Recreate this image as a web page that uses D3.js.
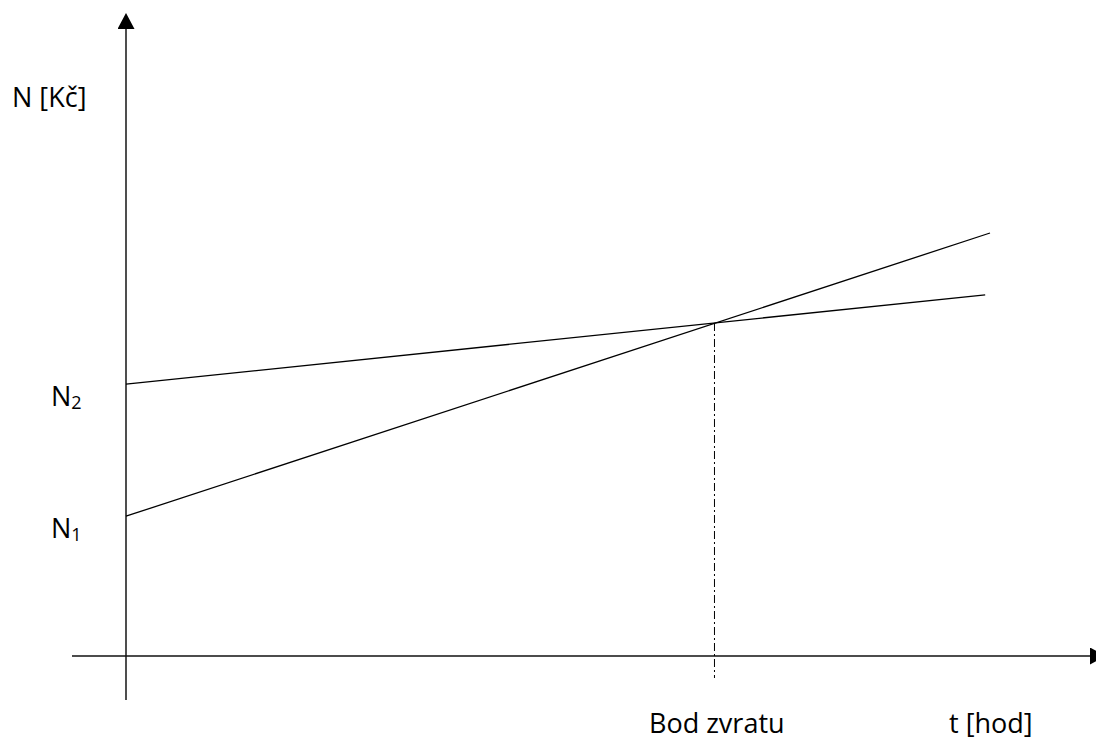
<!DOCTYPE html>
<html>
<head>
<meta charset="utf-8">
<script src="https://cdn.jsdelivr.net/npm/d3@7"></script>
<style>
  html, body { margin: 0; padding: 0; background: #fff; }
  svg { display: block; }
  text { font-family: "Open Sans", "Noto Sans", sans-serif; fill: #000; }
</style>
</head>
<body>
<svg id="chart" width="1096" height="743"></svg>
<script>
// Break-even diagram: two cost lines N1 and N2 over time t
const lineN1 = [[0, 2.33], [9.0, 7.05]];
const lineN2 = [[0, 4.53], [8.95, 6.02]];
const breakEven = { t: 6.13, n: 5.55 };
const yLabels = [
  { name: "N", sub: "2", n: 4.53 },
  { name: "N", sub: "1", n: 2.33 }
];
const axisTitles = { y: "N [Kč]", x: "t [hod]", breakEven: "Bod zvratu" };

const svg = d3.select("#chart");
const x = d3.scaleLinear().domain([0, 10]).range([126, 1086]);
const y = d3.scaleLinear().domain([0, 10]).range([656, 56]);

// arrowheads
const defs = svg.append("defs");
defs.append("marker")
  .attr("id", "arrow")
  .attr("viewBox", "0 0 16 17")
  .attr("refX", 0).attr("refY", 8.5)
  .attr("markerWidth", 16).attr("markerHeight", 17)
  .attr("markerUnits", "userSpaceOnUse")
  .attr("orient", "auto")
  .append("path")
  .attr("d", "M0,0 L16,8.5 L0,17 Z")
  .attr("fill", "#000");

// axes
svg.append("line")
  .attr("x1", x(0)).attr("x2", x(0))
  .attr("y1", 700).attr("y2", 29)
  .attr("stroke", "#222").attr("stroke-width", 1.6)
  .attr("marker-end", "url(#arrow)");
svg.append("line")
  .attr("x1", 72).attr("x2", 1090)
  .attr("y1", y(0)).attr("y2", y(0))
  .attr("stroke", "#111").attr("stroke-width", 1.6)
  .attr("marker-end", "url(#arrow)");

// cost lines
const line = d3.line().x(d => x(d[0])).y(d => y(d[1]));
[lineN1, lineN2].forEach(pts => {
  svg.append("path")
    .attr("d", line(pts))
    .attr("fill", "none")
    .attr("stroke", "#000")
    .attr("stroke-width", 1.3);
});

// break-even drop line
svg.append("line")
  .attr("x1", x(breakEven.t)).attr("x2", x(breakEven.t))
  .attr("y1", y(breakEven.n)).attr("y2", 678)
  .attr("stroke", "#000").attr("stroke-width", 1)
  .attr("stroke-dasharray", "8,3,2,3");

// labels
svg.append("text")
  .attr("x", 12).attr("y", 107)
  .attr("font-size", 27)
  .text(axisTitles.y);

yLabels.forEach(l => {
  const t = svg.append("text")
    .attr("x", 51).attr("y", y(l.n) + 22)
    .attr("font-size", 27);
  t.append("tspan").text(l.name);
  t.append("tspan").attr("font-size", 18).attr("dy", 3).text(l.sub);
});

svg.append("text")
  .attr("x", 649).attr("y", 733)
  .attr("font-size", 27)
  .text(axisTitles.breakEven);

svg.append("text")
  .attr("x", 949).attr("y", 733)
  .attr("font-size", 27)
  .text(axisTitles.x);
</script>
</body>
</html>
